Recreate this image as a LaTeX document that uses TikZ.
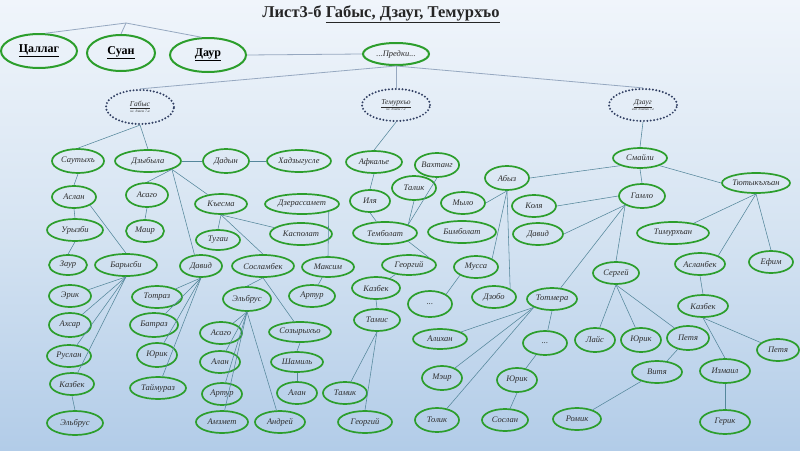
\documentclass[tikz,border=0pt]{standalone}
\usepackage{fontspec}
\setmainfont{Liberation Serif}
\usetikzlibrary{shapes.geometric}
\definecolor{pgreen}{RGB}{44,158,44}
\definecolor{ptext}{RGB}{45,45,45}
\definecolor{pedge}{RGB}{85,135,155}
\definecolor{ptop}{RGB}{150,168,192}
\definecolor{pdot}{RGB}{50,64,100}
\definecolor{bgtop}{RGB}{240,245,251}
\definecolor{bgmid}{RGB}{214,228,242}
\definecolor{bgbot}{RGB}{178,204,232}
\tikzset{
  person/.style={ellipse, draw=pgreen, line width=1.7pt, inner sep=0pt,
    font=\fontsize{8.5}{9}\selectfont\itshape, text=ptext},
  sz/.style 2 args={minimum width=#1pt, minimum height=#2pt},
  topname/.style={ellipse, draw=pgreen, line width=2pt, inner sep=0pt,
    font=\fontsize{12}{13}\selectfont\bfseries, text=black},
  clan/.style={ellipse, draw=pdot, line width=2.2pt, line cap=round,
    dash pattern=on 0pt off 3.4pt, inner sep=0pt, align=center,
    font=\fontsize{7.5}{8}\selectfont\itshape, text=ptext},
  edge/.style={draw=pedge, line width=0.55pt},
  topedge/.style={draw=ptop, line width=0.8pt},
}
\newcommand\mkp[6]{\node[person,sz={#4}{#5}] (#1) at (#2,#3) {#6};}
\begin{document}
\begin{tikzpicture}[x=1pt,y=-1pt]
\shade[top color=bgtop, bottom color=bgbot, middle color=bgmid] (0,0) rectangle (800,450);
\useasboundingbox (0,0) rectangle (800,450);

% title
\node[font=\fontsize{16.5}{18}\selectfont\bfseries, text=black!85] (title) at (381,14)
  {Лист3-б \underline{Габыс, Дзауг, Темурхъо}};

% top level
\node[topname, sz={76}{34}] (callag) at (39,51) {\underline{Цаллаг}};
\node[topname, sz={68}{36}] (suan) at (121,53) {\underline{Суан}};
\node[topname, sz={76}{34}] (daur) at (208,55) {\underline{Даур}};
\node[person, sz={66}{22}, line width=2pt] (predki) at (396,54) {...Предки...};
\coordinate (topj) at (126,23);

\node[clan, sz={68}{34}] (gabys) at (140,107)
  {\underline{Габыс}\\[-2pt]{\fontsize{3.5}{4}\selectfont ис. дзаем 7-а}};
\node[clan, sz={68}{32}] (temur) at (396,105)
  {\underline{Темурхъо}\\[-2pt]{\fontsize{3.5}{4}\selectfont ис. дзаем 7-е}};
\node[clan, sz={68}{32}] (dzaug) at (643,105)
  {\underline{Дзауг}\\[-2pt]{\fontsize{3.5}{4}\selectfont изд. дзаемк 7-е}};

% Gabys branch
\mkp{sautyh}{78}{161}{52}{24}{Саутыхъ}
\mkp{dzyb}{148}{161}{66}{22}{Дзыбыла}
\mkp{dadyn}{226}{161}{46}{24}{Дадын}
\mkp{hadz}{299}{161}{64}{22}{Хадзыгусле}
\mkp{aslan}{74}{197}{44}{22}{Аслан}
\mkp{asagoa}{147}{195}{42}{24}{Асаго}
\mkp{kesma}{221}{204}{52}{20}{Къесма}
\mkp{dzeras}{302}{204}{74}{20}{Дзерассамет}
\mkp{uryzbi}{75}{230}{56}{22}{Урызби}
\mkp{maira}{145}{231}{38}{22}{Маир}
\mkp{tugai}{218}{240}{44}{20}{Тугаи}
\mkp{kaspol}{301}{234}{62}{22}{Касполат}
\mkp{zaur}{68}{265}{38}{20}{Заур}
\mkp{barys}{126}{265}{62}{22}{Барысби}
\mkp{davida}{201}{266}{42}{22}{Давид}
\mkp{soslamb}{263}{266}{62}{22}{Сосламбек}
\mkp{maksim}{328}{267}{52}{20}{Максим}
\mkp{erik}{70}{296}{42}{22}{Эрик}
\mkp{totraz}{157}{297}{50}{22}{Тотраз}
\mkp{elbrusa}{247}{299}{48}{24}{Эльбрус}
\mkp{artura}{312}{296}{46}{22}{Артур}
\mkp{ahsar}{70}{325}{42}{24}{Ахсар}
\mkp{batraz}{154}{325}{48}{24}{Батраз}
\mkp{asagob}{221}{333}{42}{22}{Асаго}
\mkp{sozyr}{300}{332}{62}{20}{Созырыхъо}
\mkp{ruslan}{69}{356}{44}{22}{Руслан}
\mkp{yurika}{157}{355}{40}{24}{Юрик}
\mkp{alana}{220}{362}{40}{22}{Алан}
\mkp{shamil}{297}{362}{52}{20}{Шамиль}
\mkp{kazbeka}{72}{384}{44}{22}{Казбек}
\mkp{taimur}{158}{388}{56}{22}{Таймураз}
\mkp{arturb}{222}{394}{40}{22}{Артур}
\mkp{alanb}{297}{393}{40}{22}{Алан}
\mkp{elbrusb}{75}{423}{56}{24}{Эльбрус}
\mkp{amzmet}{222}{422}{52}{22}{Амзмет}
\mkp{andrei}{280}{422}{50}{22}{Андрей}

% Temurkho branch
\mkp{afkal}{374}{162}{56}{22}{Афкалье}
\mkp{vaht}{437}{165}{44}{24}{Вахтанг}
\mkp{ilya}{370}{201}{40}{22}{Иля}
\mkp{talik}{414}{188}{44}{24}{Талик}
\mkp{tembol}{385}{233}{64}{22}{Темболат}
\mkp{georga}{409}{265}{54}{20}{Георгий}
\mkp{kazbekb}{376}{288}{48}{22}{Казбек}
\mkp{tamis}{377}{320}{46}{22}{Тамис}
\mkp{tamik}{345}{393}{44}{22}{Тамик}
\mkp{georgb}{365}{422}{54}{22}{Георгий}

% Dzaug branch
\mkp{abyz}{507}{178}{44}{24}{Абыз}
\mkp{mylo}{463}{203}{44}{22}{Мыло}
\mkp{bimbol}{462}{232}{68}{22}{Бимболат}
\mkp{mussa}{476}{267}{44}{22}{Мусса}
\mkp{dzobo}{494}{297}{44}{22}{Дзобо}
\mkp{dotsa}{430}{304}{44}{26}{...}
\mkp{alihan}{440}{339}{54}{20}{Алихан}
\mkp{meir}{442}{378}{40}{24}{Мэир}
\mkp{tolik}{437}{420}{44}{24}{Толик}

\mkp{smaily}{640}{158}{54}{20}{Смайли}
\mkp{tyut}{756}{183}{68}{20}{Тютыкъхъан}
\mkp{koly}{534}{206}{44}{22}{Коля}
\mkp{gamlo}{642}{196}{46}{24}{Гамло}
\mkp{davidb}{538}{234}{50}{22}{Давид}
\mkp{timur}{673}{233}{72}{22}{Тимурхъан}
\mkp{aslanb}{700}{264}{50}{22}{Асланбек}
\mkp{efim}{771}{262}{44}{22}{Ефим}
\mkp{sergei}{616}{273}{46}{22}{Сергей}
\mkp{totmera}{552}{299}{50}{22}{Тотмера}
\mkp{kazbekc}{703}{306}{50}{22}{Казбек}
\mkp{lais}{595}{340}{40}{24}{Лайс}
\mkp{yurikb}{641}{340}{40}{24}{Юрик}
\mkp{petyaa}{688}{338}{42}{24}{Петя}
\mkp{dotsb}{545}{343}{44}{24}{...}
\mkp{petyab}{778}{350}{42}{22}{Петя}
\mkp{vitya}{657}{372}{50}{22}{Витя}
\mkp{izmail}{725}{371}{50}{24}{Измаил}
\mkp{yurikc}{517}{380}{40}{24}{Юрик}
\mkp{romik}{577}{419}{48}{22}{Ромик}
\mkp{soslan}{505}{420}{46}{22}{Сослан}
\mkp{gerik}{725}{422}{50}{24}{Герик}

% top connectors
\draw[topedge] (topj) -- (callag.70);
\draw[topedge] (topj) -- (suan.north);
\draw[topedge] (topj) -- (daur.110);
\draw[topedge] (daur.east) -- (predki.west);
\draw[topedge] (predki.south) -- (gabys.north);
\draw[topedge] (predki.south) -- (temur.north);
\draw[topedge] (predki.south) -- (dzaug.north);

% Gabys edges
\draw[edge] (gabys.south) -- (sautyh.north);
\draw[edge] (gabys.south) -- (dzyb.north);
\draw[edge] (sautyh.south) -- (aslan.north);
\draw[edge] (aslan.south) -- (uryzbi.north);
\draw[edge] (aslan.south east) -- (barys.north);
\draw[edge] (uryzbi.south) -- (zaur.north);
\draw[edge] (barys.south) -- (erik);
\draw[edge] (barys.south) -- (ahsar);
\draw[edge] (barys.south) -- (ruslan);
\draw[edge] (barys.south) -- (kazbeka);
\draw[edge] (kazbeka.south) -- (elbrusb.north);
\draw[edge] (dzyb.east) -- (dadyn.west);
\draw[edge] (dadyn.east) -- (hadz.west);
\draw[edge] (dzyb.south east) -- (asagoa.north);
\draw[edge] (asagoa.south) -- (maira.north);
\draw[edge] (dzyb.south east) -- (kesma);
\draw[edge] (dzyb.south east) -- (davida.120);
\draw[edge] (kesma.south) -- (tugai.north);
\draw[edge] (kesma.south) -- (kaspol);
\draw[edge] (kesma.south) -- (soslamb.north);
\draw[edge] (dzeras.south east) -- (maksim.north);
\draw[edge] (maksim) -- (artura);
\draw[edge] (davida.south) -- (totraz);
\draw[edge] (davida.south) -- (batraz);
\draw[edge] (davida.south) -- (yurika);
\draw[edge] (davida.south) -- (taimur);
\draw[edge] (soslamb.south) -- (elbrusa.north);
\draw[edge] (soslamb.south) -- (sozyr.120);
\draw[edge] (elbrusa.south) -- (asagob);
\draw[edge] (elbrusa.south) -- (alana);
\draw[edge] (elbrusa.south) -- (arturb);
\draw[edge] (elbrusa.south) -- (amzmet);
\draw[edge] (elbrusa.south) -- (andrei);
\draw[edge] (sozyr.south) -- (shamil.north);
\draw[edge] (shamil.south) -- (alanb.north);

% Temurkho edges
\draw[edge] (temur.south) -- (afkal.north);
\draw[edge] (afkal.south) -- (ilya.north);
\draw[edge] (ilya.south) -- (tembol);
\draw[edge] (talik.south) -- (tembol.north east);
\draw[edge] (vaht.south) -- (tembol.north east);
\draw[edge] (tembol.south east) -- (georga.north east);
\draw[edge] (georga) -- (kazbekb);
\draw[edge] (kazbekb.south) -- (tamis.north);
\draw[edge] (tamis.south) -- (tamik);
\draw[edge] (tamis.south) -- (georgb.north);

% Dzaug edges
\draw[edge] (dzaug.south) -- (smaily.north);
\draw[edge] (smaily.south west) -- (abyz.east);
\draw[edge] (smaily.south) -- (gamlo.north);
\draw[edge] (smaily.south east) -- (tyut.west);
\draw[edge] (abyz.south) -- (mylo.east);
\draw[edge] (abyz.south) -- (mussa.north east);
\draw[edge] (abyz.south) -- (dzobo.north east);
\draw[edge] (mussa.south west) -- (dotsa.north east);
\draw[edge] (gamlo.west) -- (koly.east);
\draw[edge] (gamlo.south west) -- (davidb.east);
\draw[edge] (gamlo.south west) -- (sergei.north);
\draw[edge] (gamlo.south west) -- (totmera);
\draw[edge] (totmera.south west) -- (alihan);
\draw[edge] (totmera.south west) -- (meir);
\draw[edge] (totmera.south west) -- (tolik);
\draw[edge] (totmera.south) -- (dotsb);
\draw[edge] (dotsb) -- (yurikc);
\draw[edge] (yurikc.south) -- (soslan);
\draw[edge] (sergei.south) -- (lais);
\draw[edge] (sergei.south) -- (yurikb);
\draw[edge] (sergei.south) -- (petyaa);
\draw[edge] (petyaa) -- (vitya);
\draw[edge] (vitya) -- (romik);
\draw[edge] (tyut.south) -- (timur);
\draw[edge] (tyut.south) -- (aslanb.north east);
\draw[edge] (tyut.south) -- (efim.north);
\draw[edge] (aslanb.south) -- (kazbekc.north);
\draw[edge] (kazbekc.south) -- (izmail.north);
\draw[edge] (kazbekc.south) -- (petyab);
\draw[edge] (izmail.south) -- (gerik.north);
\end{tikzpicture}
\end{document}
